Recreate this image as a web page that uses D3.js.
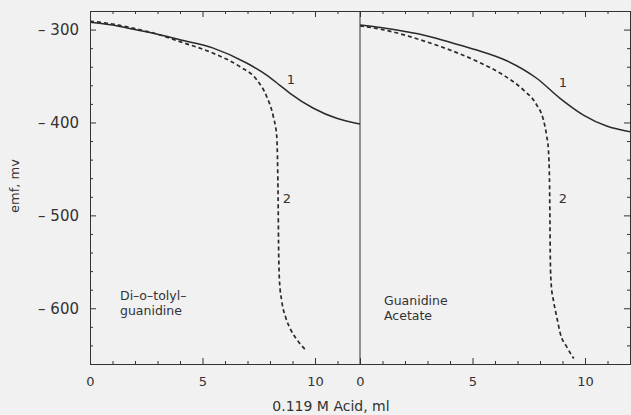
<!DOCTYPE html>
<html>
<head>
<meta charset="utf-8">
<script src="https://cdn.jsdelivr.net/npm/d3@7"></script>
<style>
  body { margin: 0; background: #f1f1f1; }
  svg { display: block; }
  .axis path, .axis line { stroke: #333; }
  .axis text { font-family: "DejaVu Sans", sans-serif; fill: #333; }
</style>
</head>
<body>
<div id="chart"></div>
<script>
// x tick labels and y tick labels
var xMajor = [0, 5, 10];
var yMajor = [-300, -400, -500, -600];

// left panel: Di-o-tolyl-guanidine  [ml, emf]
var diCurve1 = [[0,-292],[1,-295],[2,-300],[3,-305],[4,-311],[5.48,-320],[6.96,-336],[7.85,-349],[8.44,-360],[8.89,-368.6],[9.93,-384.7],[10.96,-395.5],[12,-401.6]];
var diCurve2 = [[0,-291],[1,-294],[2,-299],[3,-305],[4,-313],[5.48,-325.5],[6.67,-340],[7.41,-354],[7.85,-372],[8.15,-394],[8.3,-415],[8.34,-448],[8.36,-480],[8.38,-530],[8.42,-570],[8.52,-592],[8.7,-610],[8.9,-622],[9.2,-634],[9.55,-644]];

// right panel: Guanidine Acetate
var gaCurve1 = [[0,-295],[1,-298],[2,-302],[2.67,-305],[4,-313.7],[5.19,-322],[6.52,-333.5],[7.85,-352.4],[8.89,-374],[9.93,-392],[10.96,-403.8],[12,-410]];
var gaCurve2 = [[0,-296],[1,-300],[2,-306],[2.67,-311],[4,-322],[5.19,-334],[6.37,-349],[7.26,-365],[7.85,-381],[8.15,-397],[8.3,-415],[8.37,-428],[8.42,-460],[8.44,-500],[8.46,-550],[8.5,-575],[8.6,-592],[8.75,-610],[8.9,-627],[9.2,-642],[9.5,-654]];

var svgWidth = 631, svgHeight = 415;
var plotTop = 11, plotBottom = 364;

var svg = d3.select("#chart").append("svg")
    .attr("width", svgWidth)
    .attr("height", svgHeight);

var yScale = d3.scaleLinear().domain([-660, -280]).range([plotBottom, plotTop]);

var panels = [
    { x0: 90, x1: 360, c1: diCurve1, c2: diCurve2, lines: ["Di\u2013o\u2013tolyl\u2013", "guanidine"], tx: 120, ty: 300, lab1: [291, 84], lab2: [287, 203] },
    { x0: 360, x1: 630, c1: gaCurve1, c2: gaCurve2, lines: ["Guanidine", "Acetate"], tx: 384, ty: 305, lab1: [563, 87], lab2: [563, 203] }
];

var yMinor = d3.range(-660, -279, 20).filter(v => yMajor.indexOf(v) < 0);
var xMinor = d3.range(0, 13, 1).filter(v => xMajor.indexOf(v) < 0);

panels.forEach(function (p, i) {
    var xScale = d3.scaleLinear().domain([0, 12]).range([p.x0, p.x1]);

    // bottom axis, ticks pointing up
    svg.append("g").attr("class", "axis")
        .attr("transform", `translate(0, ${plotBottom})`)
        .call(d3.axisBottom(xScale).tickValues(xMajor).tickSizeInner(-6).tickSizeOuter(0).tickPadding(13).tickFormat(d3.format("d")))
        .selectAll("text").style("font-size", "13px");
    svg.append("g").attr("class", "axis")
        .attr("transform", `translate(0, ${plotBottom})`)
        .call(d3.axisBottom(xScale).tickValues(xMinor).tickSizeInner(-3).tickSizeOuter(0).tickFormat(""));

    // top axis, ticks pointing down
    svg.append("g").attr("class", "axis")
        .attr("transform", `translate(0, ${plotTop})`)
        .call(d3.axisTop(xScale).tickValues(xMajor).tickSizeInner(-6).tickSizeOuter(0).tickFormat(""));
    svg.append("g").attr("class", "axis")
        .attr("transform", `translate(0, ${plotTop})`)
        .call(d3.axisTop(xScale).tickValues(xMinor).tickSizeInner(-3).tickSizeOuter(0).tickFormat(""));

    // clip the curves to the panel
    svg.append("clipPath").attr("id", "clip" + i)
        .append("rect")
        .attr("x", p.x0).attr("y", plotTop)
        .attr("width", p.x1 - p.x0).attr("height", plotBottom - plotTop);

    var line = d3.line()
        .x(d => xScale(d[0]))
        .y(d => yScale(d[1]))
        .curve(d3.curveMonotoneX);

    var g = svg.append("g").attr("clip-path", `url(#clip${i})`);
    g.append("path")
        .attr("d", line(p.c1))
        .attr("fill", "none")
        .attr("stroke", "#2a2a2a")
        .attr("stroke-width", 1.5);
    g.append("path")
        .attr("d", line(p.c2))
        .attr("fill", "none")
        .attr("stroke", "#2a2a2a")
        .attr("stroke-width", 1.7)
        .attr("stroke-dasharray", "4,3");

    // curve labels
    svg.append("text").attr("x", p.lab1[0]).attr("y", p.lab1[1])
        .attr("text-anchor", "middle")
        .style("font-family", "DejaVu Sans, sans-serif").style("font-size", "13px").attr("fill", "#333")
        .text("1");
    svg.append("text").attr("x", p.lab2[0]).attr("y", p.lab2[1])
        .attr("text-anchor", "middle")
        .style("font-family", "DejaVu Sans, sans-serif").style("font-size", "13px").attr("fill", "#333")
        .text("2");

    // compound name
    var t = svg.append("text")
        .attr("x", p.tx).attr("y", p.ty)
        .style("font-family", "DejaVu Sans, sans-serif").style("font-size", "12.5px").attr("fill", "#333");
    p.lines.forEach(function (s, k) {
        t.append("tspan").attr("x", p.tx).attr("dy", k === 0 ? 0 : 15).text(s);
    });
});

// left y axis, ticks pointing in
var yAxisL = svg.append("g").attr("class", "axis")
    .attr("transform", "translate(90, 0)")
    .call(d3.axisLeft(yScale).tickValues(yMajor).tickSizeInner(-6).tickSizeOuter(0).tickPadding(11)
        .tickFormat(d => "\u2013 " + Math.abs(d)));
yAxisL.selectAll("text").style("font-size", "15px");
svg.append("g").attr("class", "axis")
    .attr("transform", "translate(90, 0)")
    .call(d3.axisLeft(yScale).tickValues(yMinor).tickSizeInner(-3).tickSizeOuter(0).tickFormat(""));

// right y axis of right panel, ticks pointing in
svg.append("g").attr("class", "axis")
    .attr("transform", "translate(630, 0)")
    .call(d3.axisRight(yScale).tickValues(yMajor).tickSizeInner(-6).tickSizeOuter(0).tickFormat(""));
svg.append("g").attr("class", "axis")
    .attr("transform", "translate(630, 0)")
    .call(d3.axisRight(yScale).tickValues(yMinor).tickSizeInner(-3).tickSizeOuter(0).tickFormat(""));

// divider between the panels
svg.append("line")
    .attr("x1", 360).attr("x2", 360)
    .attr("y1", plotTop).attr("y2", plotBottom)
    .attr("stroke", "#333");

// axis titles
svg.append("text")
    .attr("transform", "translate(19, 186) rotate(-90)")
    .attr("text-anchor", "middle")
    .style("font-family", "DejaVu Sans, sans-serif").style("font-size", "13px").attr("fill", "#333")
    .text("emf, mv");

svg.append("text")
    .attr("x", 331).attr("y", 411)
    .attr("text-anchor", "middle")
    .style("font-family", "DejaVu Sans, sans-serif").style("font-size", "14px").attr("fill", "#333")
    .text("0.119 M Acid, ml");
</script>
</body>
</html>
